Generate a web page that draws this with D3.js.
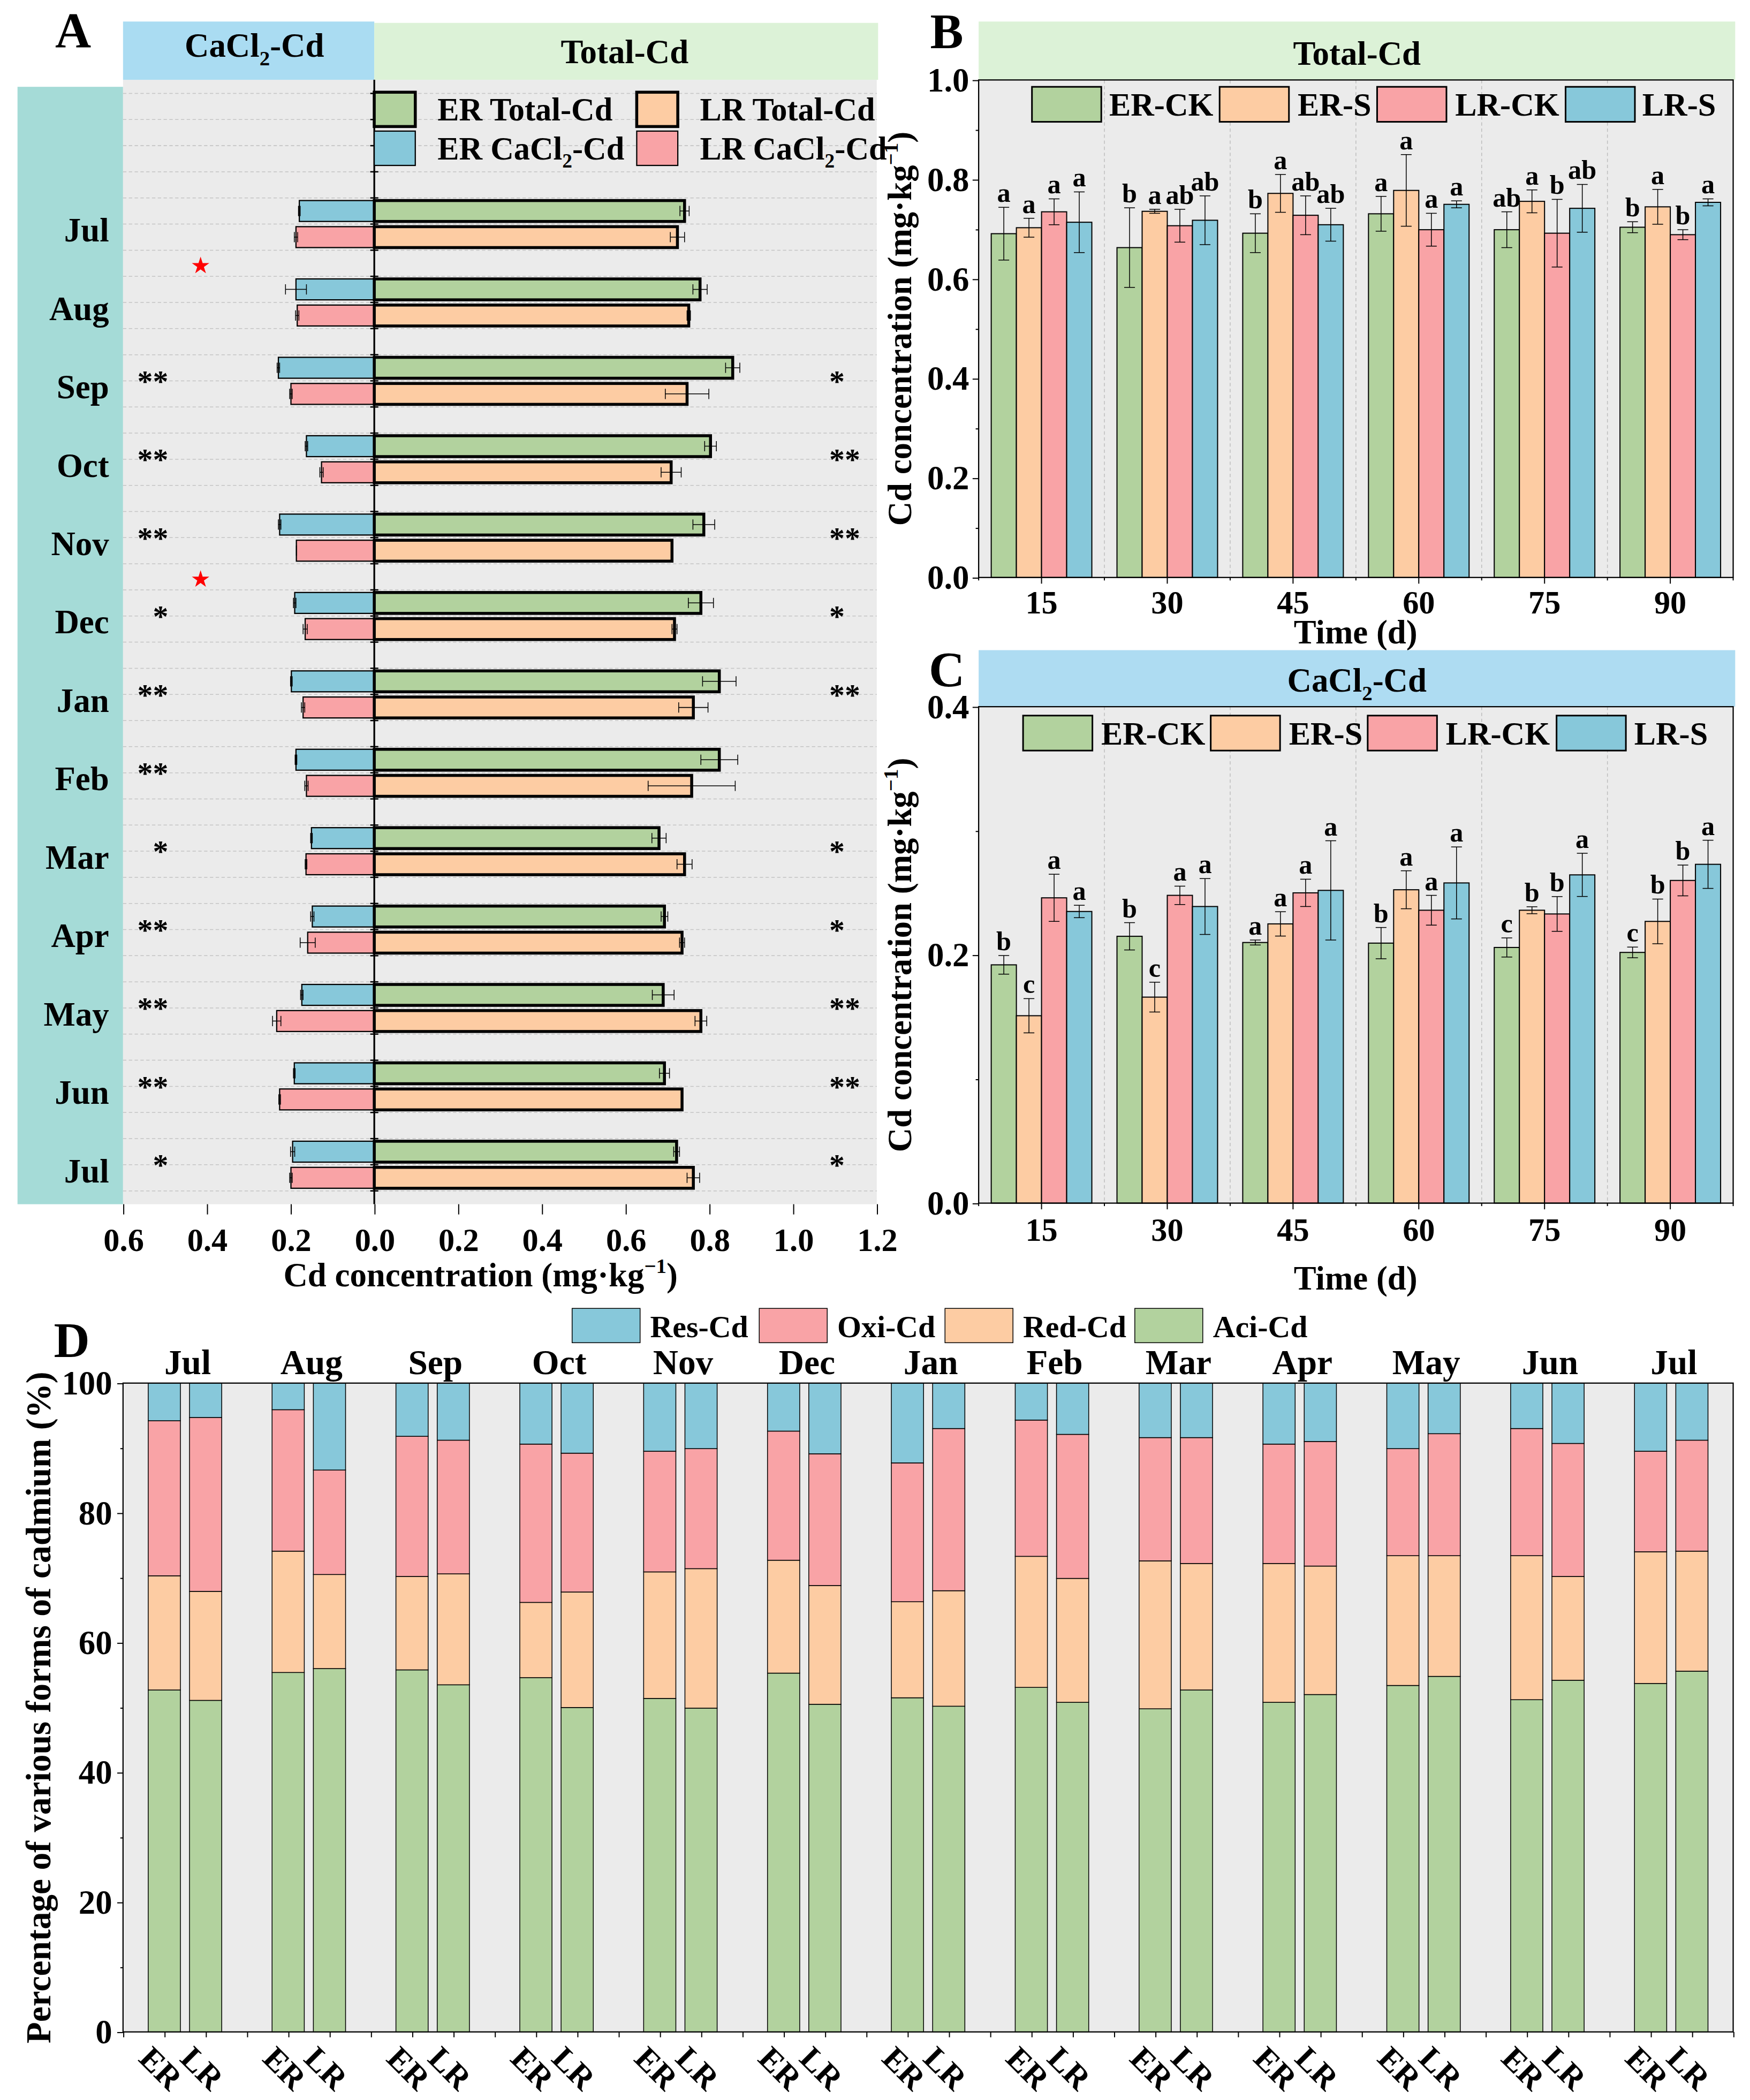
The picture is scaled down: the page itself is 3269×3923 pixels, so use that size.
<!DOCTYPE html>
<html lang="en">
<head>
<meta charset="UTF-8" />
<title>Cd forms in ER / LR soils</title>
<script src="https://d3js.org/d3.v7.min.js"></script>
<style>
  body { margin: 0; background: #fff; }
  svg { display: block; }
  text { font-family: "Liberation Serif", "Times New Roman", serif; font-weight: bold; fill: #000; }
</style>
</head>
<body>
<svg id="chart"></svg>
<script>
// ---------- data ----------
const monthsA = ["Jul", "Aug", "Sep", "Oct", "Nov", "Dec", "Jan", "Feb", "Mar", "Apr", "May", "Jun", "Jul"];

// panel A (mg/kg)
const erTotal    = [0.741, 0.778, 0.856, 0.803, 0.787, 0.780, 0.824, 0.824, 0.680, 0.693, 0.690, 0.693, 0.722];
const erTotalErr = [0.011, 0.017, 0.017, 0.014, 0.026, 0.030, 0.040, 0.044, 0.017, 0.008, 0.026, 0.012, 0.007];
const lrTotal    = [0.724, 0.751, 0.747, 0.709, 0.711, 0.717, 0.762, 0.758, 0.741, 0.735, 0.780, 0.735, 0.762];
const lrTotalErr = [0.017, 0.004, 0.052, 0.024, 0.000, 0.006, 0.035, 0.104, 0.018, 0.006, 0.014, 0.000, 0.015];
const erCacl     = [0.179, 0.187, 0.229, 0.162, 0.226, 0.190, 0.198, 0.187, 0.150, 0.148, 0.173, 0.191, 0.195];
const erCaclErr  = [0.002, 0.025, 0.003, 0.003, 0.003, 0.003, 0.002, 0.002, 0.002, 0.004, 0.003, 0.002, 0.005];
const lrCacl     = [0.187, 0.184, 0.199, 0.126, 0.186, 0.165, 0.170, 0.162, 0.163, 0.159, 0.233, 0.226, 0.199];
const lrCaclErr  = [0.004, 0.004, 0.003, 0.004, 0.000, 0.005, 0.004, 0.004, 0.002, 0.018, 0.010, 0.002, 0.003];
const sigCacl    = ["", "", "**", "**", "**", "*", "**", "**", "*", "**", "**", "**", "*"];
const sigTotal   = ["", "", "*", "**", "**", "*", "**", "", "*", "*", "**", "**", "*"];
const redStarAfter = [0, 4]; // star between this month and the next
const legendA = ["ER Total-Cd", "LR Total-Cd", "ER CaCl₂-Cd", "LR CaCl₂-Cd"];

// panels B and C
const days = ["15", "30", "45", "60", "75", "90"];
const bcSeries = ["ER-CK", "ER-S", "LR-CK", "LR-S"];

const totalErCk = [0.691, 0.663, 0.692, 0.731, 0.699, 0.704];
const totalErS  = [0.703, 0.736, 0.772, 0.778, 0.756, 0.745];
const totalLrCk = [0.735, 0.707, 0.728, 0.699, 0.692, 0.689];
const totalLrS  = [0.714, 0.718, 0.709, 0.750, 0.742, 0.754];
const totalErCkErr = [0.053, 0.080, 0.039, 0.035, 0.036, 0.011];
const totalErSErr  = [0.019, 0.004, 0.038, 0.072, 0.023, 0.035];
const totalLrCkErr = [0.026, 0.033, 0.039, 0.033, 0.068, 0.010];
const totalLrSErr  = [0.061, 0.049, 0.033, 0.007, 0.048, 0.007];
const totalErCkSig = ["a", "b", "b", "a", "ab", "b"];
const totalErSSig  = ["a", "a", "a", "a", "a", "a"];
const totalLrCkSig = ["a", "ab", "ab", "a", "b", "b"];
const totalLrSSig  = ["a", "ab", "ab", "a", "ab", "a"];

const caclErCk = [0.192, 0.215, 0.210, 0.2095, 0.206, 0.202];
const caclErS  = [0.151, 0.166, 0.225, 0.2525, 0.236, 0.227];
const caclLrCk = [0.246, 0.248, 0.250, 0.236, 0.233, 0.260];
const caclLrS  = [0.235, 0.239, 0.252, 0.258, 0.2645, 0.273];
const caclErCkErr = [0.0075, 0.011, 0.002, 0.0126, 0.0077, 0.0043];
const caclErSErr  = [0.0138, 0.012, 0.0098, 0.0153, 0.0028, 0.018];
const caclLrCkErr = [0.019, 0.0074, 0.011, 0.012, 0.014, 0.0124];
const caclLrSErr  = [0.005, 0.0225, 0.040, 0.029, 0.0174, 0.0194];
const caclErCkSig = ["b", "b", "a", "b", "c", "c"];
const caclErSSig  = ["c", "c", "a", "a", "b", "b"];
const caclLrCkSig = ["a", "a", "a", "a", "b", "b"];
const caclLrSSig  = ["a", "a", "a", "a", "a", "a"];

// panel D (% of each form)
const formKeys  = ["Aci", "Red", "Oxi", "Res"];
const formNames = ["Aci-Cd", "Red-Cd", "Oxi-Cd", "Res-Cd"];
const aciER = [52.7, 55.4, 55.8, 54.6, 51.4, 55.3, 51.5, 53.1, 49.8, 50.8, 53.4, 51.2, 53.7];
const redER = [17.6, 18.7, 14.4, 11.6, 19.5, 17.4, 14.8, 20.2, 22.8, 21.4, 20.0, 22.2, 20.3];
const oxiER = [23.9, 21.8, 21.6, 24.4, 18.6, 19.9, 21.4, 21.0, 19.0, 18.4, 16.5, 19.6, 15.5];
const resER = [5.8, 4.1, 8.2, 9.4, 10.5, 7.4, 12.3, 5.7, 8.4, 9.4, 10.1, 7.0, 10.5];
const aciLR = [51.1, 56.0, 53.5, 50.0, 49.9, 50.5, 50.2, 50.8, 52.7, 52.0, 54.8, 54.2, 55.6];
const redLR = [16.8, 14.5, 17.1, 17.8, 21.5, 18.3, 17.8, 19.1, 19.5, 19.8, 18.6, 16.0, 18.5];
const oxiLR = [26.8, 16.1, 20.6, 21.4, 18.5, 20.3, 25.0, 22.2, 19.4, 19.2, 18.8, 20.5, 17.1];
const resLR = [5.3, 13.4, 8.8, 10.8, 10.1, 10.9, 7.0, 7.9, 8.4, 9.0, 7.8, 9.3, 8.8];

// ---------- setup ----------
const cGreen = "#b2d29e", cOrange = "#fdcca3", cPink = "#f9a3a6", cBlue = "#87c8da";
const bcColors = [cGreen, cOrange, cPink, cBlue];
const formColors = { Aci: cGreen, Red: cOrange, Oxi: cPink, Res: cBlue };
const plotBg = "#ebebeb";

const W = 3269, H = 3923;
const svg = d3.select("#chart")
  .attr("width", W).attr("height", H)
  .attr("viewBox", `0 0 1300 ${1300 * H / W}`);

// text with subscript 2 and superscript -1
function richText(sel, str, fs) {
  const parts = str.split(/(₂|⁻¹)/).filter(p => p !== "");
  let shift = 0;
  parts.forEach(p => {
    let target = 0, size = fs, txt = p;
    if (p === "₂") { target = fs * 0.26; size = fs * 0.62; txt = "2"; }
    else if (p === "⁻¹") { target = -fs * 0.4; size = fs * 0.62; txt = "−1"; }
    sel.append("tspan").attr("font-size", size).attr("dy", target - shift).text(txt);
    shift = target;
  });
  return sel;
}

function label(g, x, y, str, fs, anchor) {
  const t = g.append("text").attr("x", x).attr("y", y)
    .attr("font-size", fs).attr("text-anchor", anchor || "middle");
  return richText(t, str, fs);
}

function styleAxis(g, fs) {
  g.attr("font-family", null).attr("font-size", null);
  g.select(".domain").remove();
  g.selectAll(".tick line").attr("stroke", "#000").attr("stroke-width", 0.8);
  g.selectAll(".tick text").attr("font-size", fs);
}

// ---------- panel A ----------
const gA = svg.append("g");
const xA = d3.scaleLinear().domain([-0.6, 1.2]).range([91.4, 651.3]);
const yA = d3.scaleLinear().domain([-0.52, 42.51]).range([59.3, 894.6]);

gA.append("rect").attr("x", 13).attr("y", 64.5)
  .attr("width", xA(-0.6) - 13).attr("height", yA(42.51) - 64.5).attr("fill", "#a5dbd7");
gA.append("rect").attr("x", xA(-0.6)).attr("y", yA(-0.52))
  .attr("width", xA(1.2) - xA(-0.6)).attr("height", yA(42.51) - yA(-0.52)).attr("fill", plotBg);

gA.append("rect").attr("x", xA(-0.6)).attr("y", 16)
  .attr("width", xA(0) - xA(-0.6)).attr("height", yA(-0.52) - 16).attr("fill", "#aadcf2");
gA.append("rect").attr("x", xA(0)).attr("y", 17)
  .attr("width", xA(1.2) - xA(0) + 1).attr("height", yA(-0.52) - 17).attr("fill", "#dcf2d7");
label(gA, 189, 42, "CaCl₂-Cd", 25);
label(gA, 464, 47, "Total-Cd", 25);
label(gA, 41, 35, "A", 37, "start");

// dashed grid
gA.append("g").selectAll("line").data(d3.range(0, 43)).join("line")
  .attr("x1", xA(-0.6)).attr("x2", xA(1.2))
  .attr("y1", d => yA(d)).attr("y2", d => yA(d))
  .attr("stroke", "#c4c4c4").attr("stroke-width", 0.6).attr("stroke-dasharray", "2.5,1.8");

const barsA = [];
monthsA.forEach((m, i) => {
  barsA.push({ side: -1, u: 3 * i + 4.5, v: erCacl[i], e: erCaclErr[i], fill: cBlue, sw: 0.9 });
  barsA.push({ side: -1, u: 3 * i + 5.5, v: lrCacl[i], e: lrCaclErr[i], fill: cPink, sw: 0.9 });
  barsA.push({ side: 1, u: 3 * i + 4.5, v: erTotal[i], e: erTotalErr[i], fill: cGreen, sw: 2.2 });
  barsA.push({ side: 1, u: 3 * i + 5.5, v: lrTotal[i], e: lrTotalErr[i], fill: cOrange, sw: 2.2 });
});

gA.append("g").selectAll("rect").data(barsA).join("rect")
  .attr("x", d => Math.min(xA(0), xA(d.side * d.v)))
  .attr("width", d => Math.abs(xA(d.side * d.v) - xA(0)))
  .attr("y", d => yA(d.u - 0.4))
  .attr("height", d => yA(d.u + 0.4) - yA(d.u - 0.4))
  .attr("fill", d => d.fill).attr("stroke", "#000").attr("stroke-width", d => d.sw);

const errA = gA.append("g").attr("stroke", "#000").attr("stroke-width", 0.6);
errA.selectAll(".h").data(barsA).join("line")
  .attr("x1", d => xA(d.side * (d.v - d.e))).attr("x2", d => xA(d.side * (d.v + d.e)))
  .attr("y1", d => yA(d.u)).attr("y2", d => yA(d.u));
errA.selectAll(".c").data(barsA.flatMap(d => [d.v - d.e, d.v + d.e].map(v => ({ x: d.side * v, u: d.u }))))
  .join("line")
  .attr("x1", d => xA(d.x)).attr("x2", d => xA(d.x))
  .attr("y1", d => yA(d.u) - 3.8).attr("y2", d => yA(d.u) + 3.8);

// zero axis with small ticks
gA.append("line").attr("x1", xA(0)).attr("x2", xA(0))
  .attr("y1", yA(-0.52)).attr("y2", yA(42.51)).attr("stroke", "#000").attr("stroke-width", 1.3);
gA.append("g").selectAll("line").data(d3.range(0, 43)).join("line")
  .attr("x1", xA(0) - 3).attr("x2", xA(0) + 3)
  .attr("y1", d => yA(d)).attr("y2", d => yA(d))
  .attr("stroke", "#000").attr("stroke-width", 1);

// month labels
gA.append("g").selectAll("text").data(monthsA).join("text")
  .attr("x", 81).attr("y", (d, i) => yA(3 * i + 5) + 13)
  .attr("text-anchor", "end").attr("font-size", 25).text(d => d);

// significance marks
gA.append("g").selectAll("text").data(sigCacl).join("text")
  .attr("x", 125).attr("y", (d, i) => yA(3 * i + 4.85) + 11)
  .attr("text-anchor", "end").attr("font-size", 23).text(d => d);
gA.append("g").selectAll("text").data(sigTotal).join("text")
  .attr("x", 616).attr("y", (d, i) => yA(3 * i + 4.85) + 11)
  .attr("text-anchor", "start").attr("font-size", 23).text(d => d);
gA.append("g").selectAll("path").data(redStarAfter).join("path")
  .attr("d", d3.symbol(d3.symbolStar).size(52))
  .attr("transform", d => `translate(149,${yA(3 * d + 6.6)})`)
  .attr("fill", "#ff0000");

// x axis
const axA = gA.append("g").attr("transform", `translate(0,${yA(42.51)})`)
  .call(d3.axisBottom(xA).tickValues(d3.ticks(-0.6, 1.2, 9)).tickSize(7.6).tickPadding(10)
    .tickFormat(d => Math.abs(d).toFixed(1)));
styleAxis(axA, 24);
label(gA, 357, 955.5, "Cd concentration (mg·kg⁻¹)", 25);

// legend A
const legAPos = [[278, 68.5], [473, 68.5], [278, 97.4], [473, 97.4]];
const legAFill = [cGreen, cOrange, cBlue, cPink];
const legASw = [2.2, 2.2, 0.9, 0.9];
legendA.forEach((name, i) => {
  const [lx, ly] = legAPos[i];
  gA.append("rect").attr("x", lx).attr("y", ly).attr("width", 30.5).attr("height", 25.5)
    .attr("fill", legAFill[i]).attr("stroke", "#000").attr("stroke-width", legASw[i]);
  label(gA, lx + 47, ly + 21, name, 24, "start");
});

// ---------- panels B, C ----------
function barPanel(o) {
  const g = svg.append("g");
  const x = d3.scaleBand().domain(days).range([727, 1287.5]);
  const xs = d3.scaleBand().domain(bcSeries).range([x.bandwidth() * 0.1, x.bandwidth() * 0.9]);
  const y = d3.scaleLinear().domain([0, o.yMax]).range([o.bottom, o.top]);

  g.append("rect").attr("x", 727).attr("y", o.headTop)
    .attr("width", 562).attr("height", o.top - o.headTop).attr("fill", o.headColor);
  label(g, 1008, o.headBase, o.head, 25);
  label(g, o.letterX, o.letterBase, o.letter, 37, "start");

  g.append("rect").attr("x", 727).attr("y", o.top)
    .attr("width", 560.5).attr("height", o.bottom - o.top).attr("fill", plotBg);
  g.append("g").selectAll("line").data(days.slice(1)).join("line")
    .attr("x1", d => x(d)).attr("x2", d => x(d)).attr("y1", o.top).attr("y2", o.bottom)
    .attr("stroke", "#bdbdbd").attr("stroke-width", 0.6).attr("stroke-dasharray", "2.5,2");

  const rows = [];
  days.forEach((d, i) => bcSeries.forEach((s, j) => rows.push({
    day: d, s, v: o.values[j][i], e: o.errs[j][i], sig: o.sigs[j][i], c: bcColors[j]
  })));
  const cx = r => x(r.day) + xs(r.s) + xs.bandwidth() / 2;

  g.append("g").selectAll("rect").data(rows).join("rect")
    .attr("x", r => x(r.day) + xs(r.s)).attr("y", r => y(r.v))
    .attr("width", xs.bandwidth()).attr("height", r => y(0) - y(r.v))
    .attr("fill", r => r.c).attr("stroke", "#000").attr("stroke-width", 0.8);

  const eg = g.append("g").attr("stroke", "#000").attr("stroke-width", 0.6);
  eg.selectAll(".v").data(rows).join("line")
    .attr("x1", cx).attr("x2", cx).attr("y1", r => y(r.v - r.e)).attr("y2", r => y(r.v + r.e));
  eg.selectAll(".c").data(rows.flatMap(r => [r.v - r.e, r.v + r.e].map(v => ({ x: cx(r), v }))))
    .join("line")
    .attr("x1", d => d.x - 4).attr("x2", d => d.x + 4).attr("y1", d => y(d.v)).attr("y2", d => y(d.v));

  g.append("g").selectAll("text").data(rows).join("text")
    .attr("x", cx).attr("y", r => y(r.v + r.e) - 4)
    .attr("text-anchor", "middle").attr("font-size", 20).text(r => r.sig);

  // frame
  g.append("rect").attr("x", 727).attr("y", o.top).attr("width", 560.5).attr("height", o.bottom - o.top)
    .attr("fill", "none").attr("stroke", "#000").attr("stroke-width", 0.9);

  const ay = g.append("g").attr("transform", "translate(727,0)")
    .call(d3.axisLeft(y).tickValues(o.major).tickSize(4.5).tickPadding(2.5).tickFormat(d3.format(".1f")));
  styleAxis(ay, 25);
  const ay2 = g.append("g").attr("transform", "translate(727,0)")
    .call(d3.axisLeft(y).tickValues(o.minor).tickSize(2.2).tickFormat(""));
  styleAxis(ay2, 25);
  const ax = g.append("g").attr("transform", `translate(0,${o.bottom})`)
    .call(d3.axisBottom(x).tickSize(4.6).tickPadding(o.xPad));
  styleAxis(ax, 24);
  g.append("g").selectAll("line").data(days.map(d => x(d)).concat([x.range()[1]])).join("line")
    .attr("x1", d => d).attr("x2", d => d).attr("y1", o.bottom).attr("y2", o.bottom + 2.2)
    .attr("stroke", "#000").attr("stroke-width", 0.8);

  label(g, 1007, o.xTitleBase, "Time (d)", 25);
  const yt = g.append("text").attr("transform", `translate(677,${(o.top + o.bottom) / 2}) rotate(-90)`)
    .attr("text-anchor", "middle").attr("font-size", 25);
  richText(yt, "Cd concentration (mg·kg⁻¹)", 25);

  // legend
  bcSeries.forEach((s, j) => {
    g.append("rect").attr("x", o.legX[j]).attr("y", o.legY).attr("width", 51.5).attr("height", 26)
      .attr("fill", bcColors[j]).attr("stroke", "#000").attr("stroke-width", 1.2);
    g.append("text").attr("x", o.legTx[j]).attr("y", o.legY + 21.5)
      .attr("font-size", 24).text(s);
  });
}

barPanel({
  top: 59.4, bottom: 429, yMax: 1.0, headTop: 16, headBase: 48, headColor: "#dcf2d7",
  head: "Total-Cd", letter: "B", letterX: 691, letterBase: 35.6,
  major: [0, 0.2, 0.4, 0.6, 0.8, 1.0], minor: [0.1, 0.3, 0.5, 0.7, 0.9],
  values: [totalErCk, totalErS, totalLrCk, totalLrS],
  errs: [totalErCkErr, totalErSErr, totalLrCkErr, totalLrSErr],
  sigs: [totalErCkSig, totalErSSig, totalLrCkSig, totalLrSSig],
  xPad: 5, xTitleBase: 478,
  legX: [766.6, 906, 1023, 1163], legTx: [824, 964, 1081, 1220], legY: 64.5
});

barPanel({
  top: 525, bottom: 893.8, yMax: 0.4, headTop: 483, headBase: 513.6, headColor: "#aedcf2",
  head: "CaCl₂-Cd", letter: "C", letterX: 690, letterBase: 510,
  major: [0, 0.2, 0.4], minor: [0.1, 0.3],
  values: [caclErCk, caclErS, caclLrCk, caclLrS],
  errs: [caclErCkErr, caclErSErr, caclLrCkErr, caclLrSErr],
  sigs: [caclErCkSig, caclErSSig, caclLrCkSig, caclLrSSig],
  xPad: 6.4, xTitleBase: 958,
  legX: [760, 899.4, 1016, 1156.3], legTx: [818, 957.5, 1074, 1214], legY: 531.6
});

// ---------- panel D ----------
const gD = svg.append("g");
const xD = d3.scaleLinear().domain([0, 39]).range([91.4, 1287.5]);
const yD = d3.scaleLinear().domain([0, 100]).range([1509.5, 1027.5]);

gD.append("rect").attr("x", xD(0)).attr("y", yD(100))
  .attr("width", xD(39) - xD(0)).attr("height", yD(0) - yD(100)).attr("fill", plotBg);

const rowsD = monthsA.flatMap((m, i) => [
  { pos: 3 * i + 1, lab: "ER", Aci: aciER[i], Red: redER[i], Oxi: oxiER[i], Res: resER[i] },
  { pos: 3 * i + 2, lab: "LR", Aci: aciLR[i], Red: redLR[i], Oxi: oxiLR[i], Res: resLR[i] }
]);
const stackD = d3.stack().keys(formKeys)(rowsD);

gD.append("g").selectAll("g").data(stackD).join("g")
  .attr("fill", s => formColors[s.key])
  .selectAll("rect").data(s => s).join("rect")
  .attr("x", d => xD(d.data.pos - 0.39)).attr("width", xD(0.78) - xD(0))
  .attr("y", d => yD(d[1])).attr("height", d => yD(d[0]) - yD(d[1]))
  .attr("stroke", "#000").attr("stroke-width", 0.6);

gD.append("rect").attr("x", xD(0)).attr("y", yD(100))
  .attr("width", xD(39) - xD(0)).attr("height", yD(0) - yD(100))
  .attr("fill", "none").attr("stroke", "#000").attr("stroke-width", 0.9);

const ayD = gD.append("g").attr("transform", `translate(${xD(0)},0)`)
  .call(d3.axisLeft(yD).tickValues([0, 20, 40, 60, 80, 100]).tickSize(4.3).tickPadding(3.7));
styleAxis(ayD, 25);
const ayD2 = gD.append("g").attr("transform", `translate(${xD(0)},0)`)
  .call(d3.axisLeft(yD).tickValues([10, 30, 50, 70, 90]).tickSize(2).tickFormat(""));
styleAxis(ayD2, 25);
const axD = gD.append("g").attr("transform", `translate(0,${yD(0)})`)
  .call(d3.axisBottom(xD).tickValues(d3.range(0, 40)).tickSize(4).tickFormat(""));
styleAxis(axD, 24);

gD.append("g").selectAll("text").data(monthsA).join("text")
  .attr("x", (d, i) => xD(3 * i + 1.5) + 2).attr("y", 1020.7)
  .attr("text-anchor", "middle").attr("font-size", 26).text(d => d);

gD.append("g").selectAll("text").data(rowsD).join("text")
  .attr("transform", d => `translate(${xD(d.pos) - 2.5},${yD(0) + 27}) rotate(45)`)
  .attr("text-anchor", "middle").attr("dominant-baseline", "central")
  .attr("font-size", 24).text(d => d.lab);

gD.append("text").attr("transform", `translate(37.3,${(yD(0) + yD(100)) / 2}) rotate(-90)`)
  .attr("text-anchor", "middle").attr("font-size", 26)
  .text("Percentage of various forms of cadmium (%)");
label(gD, 40, 1008, "D", 37, "start");

// legend D (top of stack first)
const legDx = [425, 564, 702, 843];
formKeys.slice().reverse().forEach((k, j) => {
  gD.append("rect").attr("x", legDx[j]).attr("y", 972).attr("width", 50.5).attr("height", 25.5)
    .attr("fill", formColors[k]).attr("stroke", "#000").attr("stroke-width", 0.6);
  gD.append("text").attr("x", legDx[j] + 58).attr("y", 993.5).attr("font-size", 23)
    .text(formNames[formKeys.indexOf(k)]);
});
</script>
</body>
</html>
